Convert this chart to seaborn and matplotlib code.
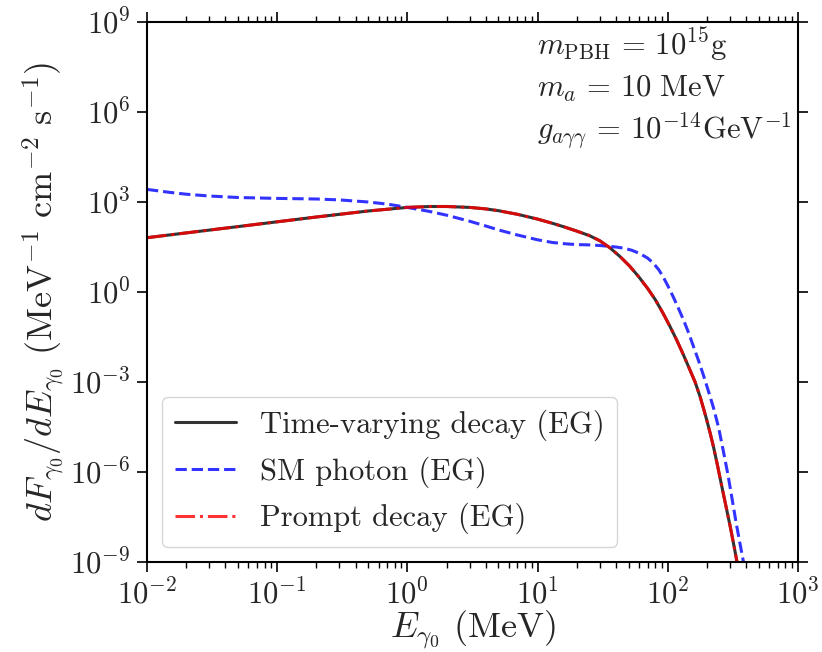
import numpy as np
import pandas as pd
import matplotlib
matplotlib.use("Agg")
import matplotlib.pyplot as plt
import seaborn as sns
from matplotlib.ticker import NullLocator, LogLocator

# ---- data (y stored as log10 values) ----
E_decay = [0.01, 0.02, 0.05, 0.1, 0.2, 0.5, 1, 1.5, 2, 3, 4, 5, 7, 10, 13, 16, 20, 25, 30,
           36, 43, 51, 60, 70, 80, 92, 104, 117, 132, 148, 162, 177, 190, 200, 212, 224,
           240, 259, 280, 301, 320, 340, 350]
logF_decay = [1.81, 1.97, 2.18, 2.34, 2.50, 2.70, 2.82, 2.85, 2.85, 2.82, 2.77, 2.71, 2.59,
              2.43, 2.29, 2.17, 2.03, 1.88, 1.71, 1.47, 1.18, 0.86, 0.50, 0.12, -0.25,
              -0.71, -1.15, -1.60, -2.10, -2.60, -3.00, -3.49, -3.95, -4.30, -4.72, -5.15,
              -5.75, -6.45, -7.15, -7.80, -8.39, -9.00, -9.30]

E_sm = [0.01, 0.015, 0.02, 0.03, 0.05, 0.1, 0.2, 0.3, 0.5, 0.7, 1, 1.5, 2, 3, 4, 5, 7, 10,
        13, 16, 20, 25, 30, 40, 46, 53, 61, 70, 77, 85, 92, 100, 110, 120, 132, 145, 157,
        172, 188, 205, 224, 245, 267, 290, 309, 335, 359, 385, 395]
logF_sm = [3.42, 3.32, 3.26, 3.20, 3.15, 3.12, 3.10, 3.07, 3.00, 2.93, 2.82, 2.68, 2.56,
           2.36, 2.20, 2.07, 1.90, 1.74, 1.65, 1.61, 1.58, 1.57, 1.55, 1.50, 1.46, 1.39,
           1.28, 1.13, 0.97, 0.75, 0.51, 0.21, -0.16, -0.52, -0.93, -1.38, -1.80, -2.28,
           -2.78, -3.30, -3.85, -4.50, -5.30, -6.10, -6.80, -7.70, -8.40, -9.10, -9.40]

labels = ["Time-varying decay (EG)", "SM photon (EG)", "Prompt decay (EG)"]
yticks_exp = [-9, -6, -3, 0, 3, 6, 9]

df_decay = pd.DataFrame({"E": E_decay, "F": 10.0 ** np.array(logF_decay)})
df_sm = pd.DataFrame({"E": E_sm, "F": 10.0 ** np.array(logF_sm)})

sns.set_style("ticks")
plt.rcParams["font.family"] = ["cmr10", "DejaVu Serif"]
plt.rcParams["mathtext.fontset"] = "cm"
plt.rcParams["axes.formatter.use_mathtext"] = True
plt.rcParams["axes.unicode_minus"] = False

fig = plt.figure(figsize=(8.22, 6.52), dpi=100)
ax = fig.add_axes([147 / 822, 1 - 562 / 652, (798 - 147) / 822, (562 - 22) / 652])
ax.set_xscale("log")
ax.set_yscale("log")

sns.lineplot(data=df_decay, x="E", y="F", ax=ax, color="k", alpha=0.8, lw=2.2,
             linestyle="-", label=labels[0])
sns.lineplot(data=df_sm, x="E", y="F", ax=ax, color="blue", alpha=0.8, lw=2.2,
             linestyle="--", label=labels[1])
sns.lineplot(data=df_decay, x="E", y="F", ax=ax, color="red", alpha=0.8, lw=2.2,
             linestyle="-.", label=labels[2])

ax.set_xlim(1e-2, 1e3)
ax.set_ylim(1e-9, 1e9)
ax.set_yticks([10.0 ** e for e in yticks_exp])
ax.yaxis.set_minor_locator(NullLocator())
ax.xaxis.set_major_locator(LogLocator(base=10, numticks=20))
ax.xaxis.set_minor_locator(LogLocator(base=10, subs=np.arange(2, 10), numticks=20))

for s in ax.spines.values():
    s.set_linewidth(1.5)
    s.set_color("black")
ax.tick_params(which="both", direction="out", top=True, right=True, color="black")
ax.tick_params(which="major", length=7, width=1.2, labelsize=22, pad=5)
ax.tick_params(which="minor", length=4, width=1.0)

ax.set_xlabel(r"$E_{\gamma_0}\ (\mathrm{MeV})$", fontsize=26, labelpad=-1)
ax.set_ylabel(r"$dF_{\gamma_0}/dE_{\gamma_0}\ (\mathrm{MeV}^{-1}\ \mathrm{cm}^{-2}\ \mathrm{s}^{-1})$",
              fontsize=26, labelpad=2)

x_txt = (537 - 147) / 651
ax.text(x_txt, (562 - 55) / 540, r"$m_{\rm PBH}\,=\,10^{15}{\rm g}$", transform=ax.transAxes,
        fontsize=22, va="baseline", ha="left")
ax.text(x_txt, (562 - 97) / 540, r"$m_a\,=\,10\ {\rm MeV}$", transform=ax.transAxes,
        fontsize=22, va="baseline", ha="left")
ax.text(x_txt, (562 - 140) / 540, r"$g_{a\gamma\gamma}\,=\,10^{-14}{\rm GeV}^{-1}$",
        transform=ax.transAxes, fontsize=22, va="baseline", ha="left")

leg = ax.legend(loc="lower left", fontsize=22, frameon=True, fancybox=True)
leg.get_frame().set_edgecolor("#cccccc")
leg.get_frame().set_alpha(0.8)

fig.savefig("out.png", dpi=100)
